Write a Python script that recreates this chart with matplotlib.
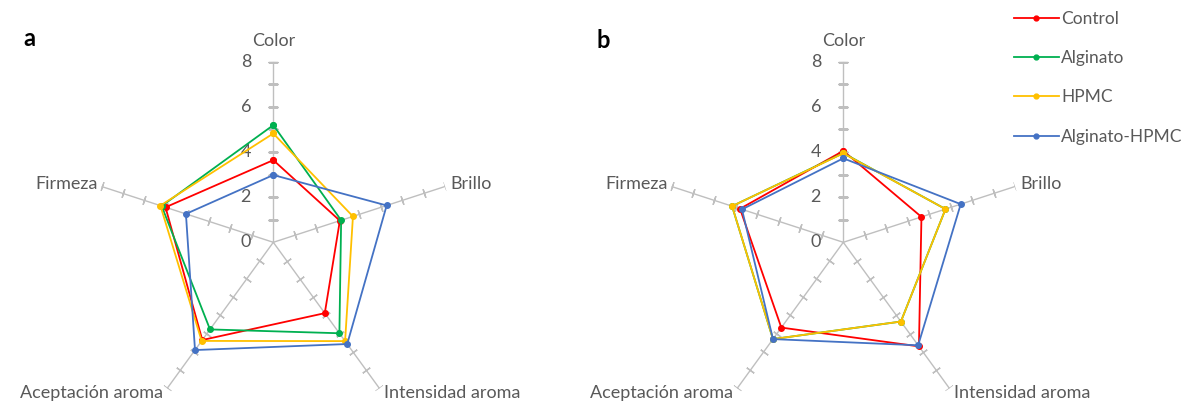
import numpy as np
import matplotlib.pyplot as plt
from matplotlib.lines import Line2D

plt.rcParams['font.family'] = ['Lato', 'DejaVu Sans']

categories = ['Color', 'Brillo', 'Intensidad aroma', 'Aceptación aroma', 'Firmeza']
series_names = ['Control', 'Alginato', 'HPMC', 'Alginato-HPMC']
series_colors = ['#FF0000', '#00B050', '#FFC000', '#4472C4']

# panel a values (one list per series, in category order)
a_control = [3.64, 3.10, 3.88, 5.35, 5.02]
a_alginato = [5.19, 3.16, 4.98, 4.77, 5.20]
a_hpmc = [4.82, 3.71, 5.41, 5.40, 5.26]
a_alg_hpmc = [2.98, 5.28, 5.57, 5.90, 4.07]

# panel b values
b_control = [4.05, 3.64, 5.70, 4.67, 4.81]
b_alginato = [3.95, 4.76, 4.34, 5.30, 5.18]
b_hpmc = [3.94, 4.76, 4.34, 5.30, 5.18]
b_alg_hpmc = [3.72, 5.47, 5.64, 5.30, 4.72]

radial_ticks = [0, 2, 4, 6, 8]
rmax = 8

grid_color = '#BFBFBF'
text_color = '#595959'
fs = 13

n = len(categories)
theta = np.arange(n) * 2 * np.pi / n

# offsets (points) and alignment for category labels
label_pos = [
    ((0, 15), 'center', 'center'),
    ((4, 2), 'left', 'center'),
    ((3, -3), 'left', 'center'),
    ((-3, -3), 'right', 'center'),
    ((-3, 2), 'right', 'center'),
]

fig = plt.figure(figsize=(11.93, 4.03), dpi=100)


def radar(ax, data):
    ax.set_theta_zero_location('N')
    ax.set_theta_direction(-1)
    ax.set_ylim(0, rmax)
    ax.grid(False)
    ax.spines['polar'].set_visible(False)
    ax.set_xticks([])
    ax.set_yticks([])
    ax.patch.set_alpha(0)

    # spokes with small cross ticks
    for t in theta:
        ax.plot([t, t], [0, rmax], color=grid_color, lw=1, zorder=1)
        ang = 90 - np.degrees(t)
        ax.plot([t] * rmax, np.arange(1, rmax + 1), ls='none',
                marker=(2, 2, ang), ms=6.5, mew=1, color=grid_color, zorder=1)

    for r in radial_ticks:
        ax.annotate(str(r), xy=(0, r), xytext=(-16, 0), textcoords='offset points',
                    ha='right', va='center', fontsize=fs, color=text_color)

    for t, name, (off, ha, va) in zip(theta, categories, label_pos):
        ax.annotate(name, xy=(t, rmax), xytext=off, textcoords='offset points',
                    ha=ha, va=va, fontsize=fs, color=text_color,
                    annotation_clip=False)

    closed = np.append(theta, theta[0])
    for vals, col in zip(data, series_colors):
        v = np.append(vals, vals[0])
        ax.plot(closed, v, color=col, lw=1.3, marker='o', ms=4, zorder=3,
                clip_on=False)


size_w = 361.2 / 1193
size_h = 361.2 / 403
bottom = (403 - 242.3 - 180.6) / 403

ax_a = fig.add_axes([92.7 / 1193, bottom, size_w, size_h], projection='polar')
radar(ax_a, [a_control, a_alginato, a_hpmc, a_alg_hpmc])

ax_b = fig.add_axes([662.7 / 1193, bottom, size_w, size_h], projection='polar')
radar(ax_b, [b_control, b_alginato, b_hpmc, b_alg_hpmc])

fig.text(23 / 1193, 1 - 38 / 403, 'a', fontsize=17, fontweight='bold', va='center')
fig.text(596 / 1193, 1 - 41 / 403, 'b', fontsize=17, fontweight='bold', va='center')

handles = [Line2D([0], [0], color=c, lw=1.3, marker='o', ms=3.5) for c in series_colors]
fig.legend(handles, series_names, loc='upper left',
           bbox_to_anchor=(998 / 1193, 1 + 5 / 403), frameon=False,
           fontsize=12.5, labelspacing=1.35, handlelength=2.6, handletextpad=0.15,
           labelcolor=text_color)

fig.savefig('out.png', dpi=100)
